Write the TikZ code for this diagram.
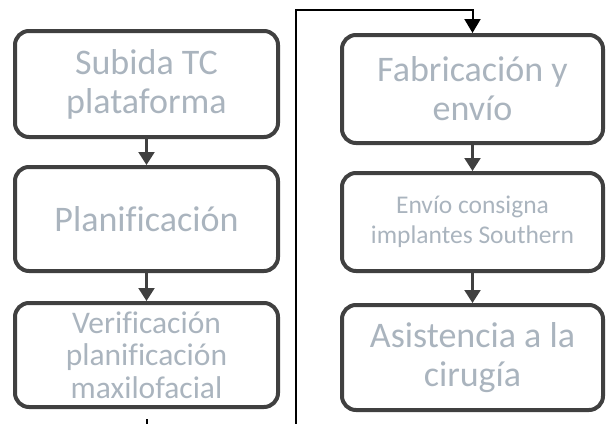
\documentclass[tikz,border=0pt]{standalone}
\usepackage{fontspec}
\setmainfont[Ligatures=CommonOff]{Carlito}
\usetikzlibrary{arrows.meta}
\definecolor{boxline}{HTML}{404040}
\definecolor{txt}{RGB}{170,180,190}
\tikzset{
  stepbox/.style={draw=boxline, line width=4pt, rounded corners=14pt, align=center,
    text=txt, inner sep=0pt},
  big/.style={font=\fontsize{36}{39}\selectfont},
  mid/.style={font=\fontsize{31.5}{32.5}\selectfont},
  small/.style={font=\fontsize{25.5}{30}\selectfont},
  flow/.style={draw=boxline, line width=2.2pt, -{Triangle[width=16pt,length=13pt]}},
  link/.style={draw=black, line width=2pt, -{Triangle[width=16pt,length=14pt]}},
}
\begin{document}
\begin{tikzpicture}[x=1pt,y=-1pt]
\useasboundingbox (0,0) rectangle (612,423);
\clip (0,0) rectangle (612,423);
\node[stepbox,big,minimum width=263pt,minimum height=106pt] (a) at (146.5,84) {Subida TC\\plataforma};
\node[stepbox,big,minimum width=263pt,minimum height=104pt] (b) at (146.5,219) {Planificación};
\node[stepbox,mid,minimum width=263pt,minimum height=104pt] (c) at (146.5,355) {Verificación\\planificación\\maxilofacial};
\node[stepbox,big,minimum width=261pt,minimum height=108pt] (d) at (472.5,89) {Fabricación y\\envío};
\node[stepbox,small,minimum width=261pt,minimum height=98pt] (e) at (472.5,222) {Envío consigna\\implantes Southern};
\node[stepbox,big,minimum width=261pt,minimum height=105pt] (f) at (472.5,357.5) {Asistencia a la\\cirugía};
\coordinate (s) at ([yshift=-10pt]c.south);
\coordinate (low) at (146.5,450);
\coordinate (lowr) at (296,450);
\coordinate (top) at (296,10);
\coordinate (topr) at (472.5,10);
\draw[flow] (a.south) -- (b.north);
\draw[flow] (b.south) -- (c.north);
\draw[flow] (d.south) -- (e.north);
\draw[flow] (e.south) -- (f.north);
\draw[link] (s) -- (low) -- (lowr) -- (top) -- (topr) -- (d.north);
\end{tikzpicture}
\end{document}
